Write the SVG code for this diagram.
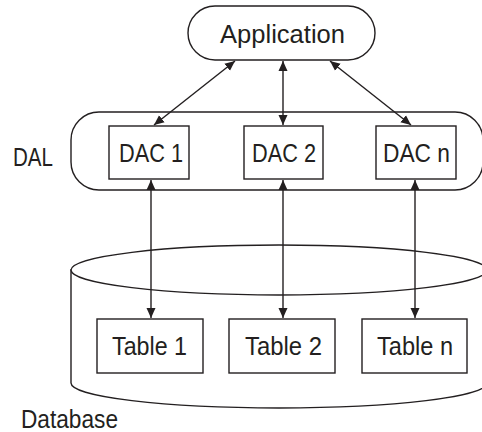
<svg xmlns="http://www.w3.org/2000/svg" width="482" height="432" viewBox="0 0 482 432">
  <style>
    .shape { fill: #ffffff; stroke: #231f20; stroke-width: 1.4; }
    .outline { fill: none; stroke: #231f20; stroke-width: 1.4; }
    .link { fill: none; stroke: #231f20; stroke-width: 1.4; marker-start: url(#head); marker-end: url(#head); }
    .label { font-family: "Liberation Sans", Arial, sans-serif; font-size: 25px; fill: #231f20; }
  </style>
  <defs>
    <marker id="head" viewBox="0 0 10 10" refX="10" refY="5" markerUnits="userSpaceOnUse" markerWidth="10" markerHeight="10" orient="auto-start-reverse">
      <path d="M0,0.5 L10,5 L0,9.5 Z" fill="#231f20"/>
    </marker>
  </defs>

  <rect width="482" height="432" fill="#ffffff"/>

  <!-- Database cylinder -->
  <g id="database">
    <path class="shape" d="M71,270 L71,383 A208,25 0 0 0 487,383 L487,270 Z"/>
    <ellipse class="shape" cx="279" cy="270" rx="208" ry="25"/>
    <text class="label" x="21" y="428" textLength="97" lengthAdjust="spacingAndGlyphs">Database</text>
  </g>

  <!-- Data access layer container -->
  <g id="dal">
    <rect class="outline" x="71" y="112" width="412" height="78" rx="28" ry="28"/>
    <text class="label" x="13" y="166" textLength="40" lengthAdjust="spacingAndGlyphs">DAL</text>
  </g>

  <g id="application">
    <rect class="shape" x="188" y="6" width="187" height="54" rx="27" ry="27"/>
    <text class="label" x="220" y="43" textLength="125" lengthAdjust="spacingAndGlyphs">Application</text>
  </g>

  <g id="dac1">
    <rect class="shape" x="109" y="126" width="80" height="53"/>
    <text class="label" x="119" y="162" textLength="64" lengthAdjust="spacingAndGlyphs">DAC 1</text>
  </g>
  <g id="dac2">
    <rect class="shape" x="244" y="126" width="79" height="53"/>
    <text class="label" x="252" y="162" textLength="64" lengthAdjust="spacingAndGlyphs">DAC 2</text>
  </g>
  <g id="dacn">
    <rect class="shape" x="376" y="126" width="80" height="53"/>
    <text class="label" x="383" y="162" textLength="67" lengthAdjust="spacingAndGlyphs">DAC n</text>
  </g>

  <g id="table1">
    <rect class="shape" x="97" y="319" width="106" height="54"/>
    <text class="label" x="112" y="355" textLength="75" lengthAdjust="spacingAndGlyphs">Table 1</text>
  </g>
  <g id="table2">
    <rect class="shape" x="229" y="319" width="106" height="54"/>
    <text class="label" x="245" y="355" textLength="77" lengthAdjust="spacingAndGlyphs">Table 2</text>
  </g>
  <g id="tablen">
    <rect class="shape" x="362" y="319" width="105" height="54"/>
    <text class="label" x="377" y="355" textLength="76" lengthAdjust="spacingAndGlyphs">Table n</text>
  </g>

  <!-- Connectors -->
  <g id="connectors">
    <line class="link" x1="235" y1="61" x2="154" y2="125"/>
    <line class="link" x1="283" y1="61" x2="283" y2="125"/>
    <line class="link" x1="330" y1="61" x2="411" y2="125"/>
    <line class="link" x1="151" y1="180" x2="151" y2="318"/>
    <line class="link" x1="283" y1="180" x2="283" y2="318"/>
    <line class="link" x1="415" y1="180" x2="415" y2="318"/>
  </g>
</svg>
